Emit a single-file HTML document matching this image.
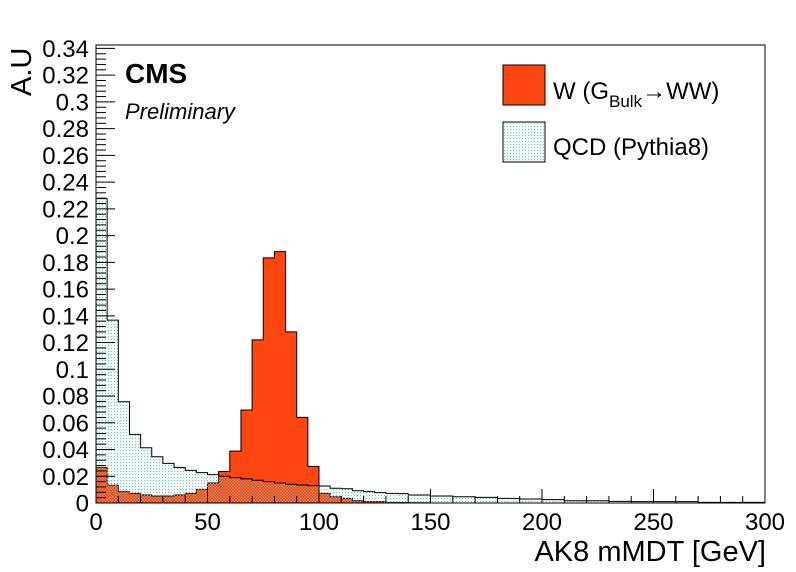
<!DOCTYPE html>
<html><head><meta charset="utf-8"><style>
body{margin:0;background:#fff;}
svg{display:block;font-family:"Liberation Sans",sans-serif;}
</style></head><body>
<svg id="chart" width="796" height="572" viewBox="0 0 796 572">
<defs>
<pattern id="dots" width="3" height="3" patternUnits="userSpaceOnUse">
<rect x="0" y="0" width="1" height="1" fill="#66c6ae"/>
<rect x="1.5" y="1.5" width="1" height="1" fill="#a8e6d8"/>
</pattern>
</defs>
<g id="marks"></g>
<rect x="96" y="45" width="669" height="458" fill="none" stroke="#000" stroke-width="1"/>
<g id="axes"></g>
<text transform="translate(31,96) rotate(-90)" font-size="29" text-anchor="start">A.U</text>
<text x="766" y="561" font-size="29" text-anchor="end">AK8 mMDT [GeV]</text>
<text x="125" y="83" font-size="28" font-weight="bold">CMS</text>
<text x="125" y="119" font-size="22" font-style="italic">Preliminary</text>
<rect x="503" y="65" width="42" height="40" fill="#ff4510" stroke="#000"/>
<text x="553" y="99" font-size="24">W (G<tspan font-size="17" dy="8">Bulk</tspan><tspan dy="-8">→WW)</tspan></text>
<rect x="503" y="122" width="42" height="40" fill="url(#dots)" stroke="#000"/>
<text x="553" y="155" font-size="24">QCD (Pythia8)</text>
</svg>
<script>
const binWidth = 5;
const wValues = [0.0266,0.0134,0.0085,0.0072,0.006,0.0052,0.0052,0.006,0.0072,0.0102,0.015,0.0236,0.0388,0.0696,0.122,0.1833,0.188,0.128,0.064,0.0274,0.0072,0.0047,0.0035,0.0017,0.001,0.001,0.0003,0.0003,0.0002,0.0002];
const qcdValues = [0.2277,0.1368,0.0757,0.0513,0.0413,0.0346,0.0296,0.0266,0.0244,0.0227,0.0212,0.020,0.019,0.018,0.017,0.016,0.015,0.014,0.0135,0.013,0.0127,0.011,0.0107,0.0092,0.0085,0.0078,0.0072,0.007,0.006,0.006,0.0052,0.0052,0.0047,0.0047,0.0042,0.0042,0.0035,0.0035,0.003,0.003,0.0025,0.0025,0.0017,0.0017,0.0017,0.0017,0.0012,0.0012,0.001,0.001,0.001,0.001,0.001,0.001,0.0005,0.0005,0.0005,0.0005,0.0005,0.0005];
const xTickLabels = [0,50,100,150,200,250,300];
const yTickLabels = [0,0.02,0.04,0.06,0.08,0.1,0.12,0.14,0.16,0.18,0.2,0.22,0.24,0.26,0.28,0.3,0.32,0.34];

const NS = "http://www.w3.org/2000/svg";
const X0 = 96, X1 = 765, Y0 = 503;
function xs(v){ return X0 + v * (X1 - X0) / 300; }
function ys(v){ return Y0 - v * 1337; }

function histPath(vals){
  let d = "M" + xs(0) + "," + ys(0);
  vals.forEach((v,i)=>{
    d += " L" + xs(i*binWidth) + "," + ys(v) + " L" + xs((i+1)*binWidth) + "," + ys(v);
  });
  d += " L" + xs(vals.length*binWidth) + "," + ys(0) + " Z";
  return d;
}
const marks = document.getElementById("marks");
const pw = document.createElementNS(NS,"path");
pw.setAttribute("d", histPath(wValues));
pw.setAttribute("fill","#ff4510");
pw.setAttribute("stroke","#000");
pw.setAttribute("stroke-width","1");


marks.appendChild(pw);
const pq = document.createElementNS(NS,"path");
pq.setAttribute("d", histPath(qcdValues));
pq.setAttribute("fill","url(#dots)");
pq.setAttribute("stroke","#000");
pq.setAttribute("stroke-width","1");


marks.appendChild(pq);

const axes = document.getElementById("axes");
function line(x1,y1,x2,y2){
  const l = document.createElementNS(NS,"line");
  l.setAttribute("x1",x1);l.setAttribute("y1",y1);l.setAttribute("x2",x2);l.setAttribute("y2",y2);
  l.setAttribute("stroke","#000");l.setAttribute("stroke-width","1");
  
  
  axes.appendChild(l);
}
for(let v=0; v<=300; v+=10){
  const major = v % 50 === 0;
  line(xs(v), Y0, xs(v), Y0 - (major?14:7));
}
for(let k=0; k<=85; k++){
  const v = k*0.004;
  const major = k % 5 === 0;
  line(X0, ys(v), X0 + (major?19:10), ys(v));
}
xTickLabels.forEach(v=>{
  const t = document.createElementNS(NS,"text");
  t.setAttribute("x", xs(v)); t.setAttribute("y", 530);
  t.setAttribute("font-size","24"); t.setAttribute("text-anchor","middle");
  t.textContent = v;
  
  
  axes.appendChild(t);
});
yTickLabels.forEach(v=>{
  const t = document.createElementNS(NS,"text");
  t.setAttribute("x", 89); t.setAttribute("y", ys(v)+8.5);
  t.setAttribute("font-size","24"); t.setAttribute("text-anchor","end");
  t.textContent = String(v);
  
  
  axes.appendChild(t);
});
</script>
</body></html>
